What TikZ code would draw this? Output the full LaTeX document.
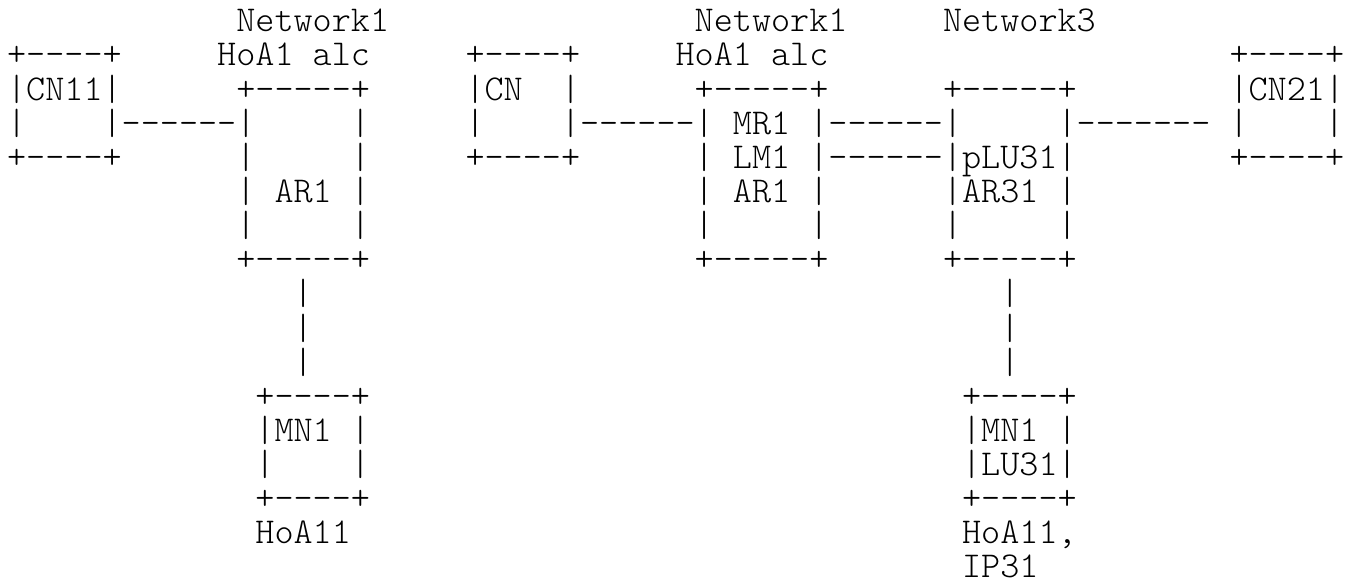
\documentclass[tikz,border=0pt]{standalone}
\usepackage{tikz}

% a run of n hyphens, kept apart so they never join into a dash
\newcommand\hy[1]{\foreach\k in {1,...,#1}{-}}

\begin{document}
\begin{tikzpicture}[x=9.55pt,y=-17.07pt,
  asc/.style={anchor=base west,inner sep=0pt,outer sep=0pt,
    font=\fontsize{18.19}{20}\fontseries{l}\ttfamily}]
\useasboundingbox (-0.374,-0.93) rectangle (70.10,16.24);

%% one text run per column/row cell
\foreach \c/\r/\s [count=\n] in {
  12/0/Network1, 36/0/Network1, 49/0/Network3,
  0/1/{+\hy4+}, 11/1/{HoA1 alc}, 24/1/{+\hy4+}, 35/1/{HoA1 alc}, 64/1/{+\hy4+},
  0/2/{|CN11|}, 12/2/{+\hy5+}, 24/2/{|CN~~|}, 36/2/{+\hy5+}, 49/2/{+\hy5+}, 64/2/{|CN21|},
  0/3/{|~~~~|\hy6|~~~~~|},
  24/3/{|~~~~|\hy6|~MR1~|\hy6|~~~~~|\hy7~|~~~~|},
  0/4/{+\hy4+~~~~~~|~~~~~|},
  24/4/{+\hy4+~~~~~~|~LM1~|\hy6|pLU31|}, 64/4/{+\hy4+},
  12/5/{|~AR1~|}, 36/5/{|~AR1~|}, 49/5/{|AR31~|},
  12/6/{|~~~~~|}, 36/6/{|~~~~~|}, 49/6/{|~~~~~|},
  12/7/{+\hy5+}, 36/7/{+\hy5+}, 49/7/{+\hy5+},
  15/8/|, 52/8/|, 15/9/|, 52/9/|, 15/10/|, 52/10/|,
  13/11/{+\hy4+}, 50/11/{+\hy4+},
  13/12/{|MN1~|}, 50/12/{|MN1~|},
  13/13/{|~~~~|}, 50/13/{|LU31|},
  13/14/{+\hy4+}, 50/14/{+\hy4+},
  13/15/HoA11, 50/15/{HoA11,},
  50/16/IP31
}
  \node[asc] (t\n) at (\c,\r) {\s};
\end{tikzpicture}
\end{document}
